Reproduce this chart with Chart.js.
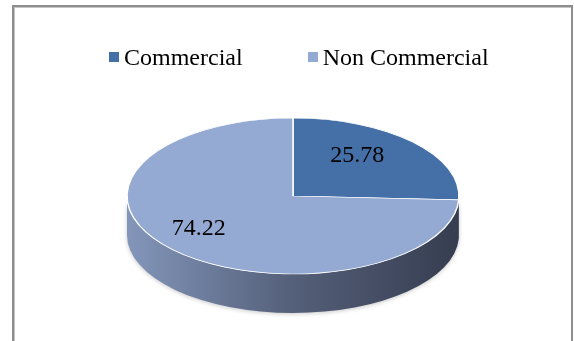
<!DOCTYPE html>
<html lang="en">
<head>
<meta charset="UTF-8">
<title>Commercial / Non Commercial</title>
<script src="https://cdn.jsdelivr.net/npm/chart.js@4.4.1/dist/chart.umd.min.js"></script>
<style>
    html, body { margin: 0; padding: 0; background: #fff; overflow: hidden; }
    .page { position: relative; width: 574px; height: 341px; overflow: hidden; }
    .frame {
        position: absolute; left: 12px; top: 5px; width: 557px; height: 400px;
        border: 2px solid #8e8e8e; box-shadow: inset 1px 1px 0 #c4c4c4;
    }
    .chart-box { position: absolute; left: 0; top: 0; width: 574px; height: 341px; }
    #legend {
        position: absolute; left: 109px; top: 45px; display: flex; align-items: center;
        font-family: "Liberation Serif", "Times New Roman", serif; font-size: 24px;
        line-height: 24px; color: #000; white-space: nowrap;
    }
    #legend .item { display: flex; align-items: center; }
    #legend .item + .item { margin-left: 65px; }
    #legend .box { width: 10px; height: 10px; margin-right: 5px; }
</style>
</head>
<body>
<div class="page">
    <div class="frame"></div>
    <div class="chart-box"><canvas id="pieChart"></canvas></div>
    <div id="legend"></div>
</div>

<script>
    // Share of records (%)
    const categories = ['Commercial', 'Non Commercial'];
    const shares = [25.78, 74.22];

    // Top face of the pie on screen and the height of its side wall
    const PIE = { cx: 293, cy: 196, rx: 166, ry: 78, depth: 39 };

    // blend a hex colour towards dark slate
    function shade(hex, t) {
        const n = parseInt(hex.slice(1), 16);
        const c = [(n >> 16) & 255, (n >> 8) & 255, n & 255];
        const d = [30, 34, 48];
        const m = c.map((v, k) => Math.round(v + (d[k] - v) * t));
        return 'rgb(' + m.join(',') + ')';
    }

    // Tilts the library's pie into a 3D disc: wall first, then squashed top face, then labels
    const pie3d = {
        id: 'pie3d',
        beforeDatasetsDraw(chart) {
            const ctx = chart.ctx;
            const meta = chart.getDatasetMeta(0);
            const colors = chart.data.datasets[0].backgroundColor;
            const { cx, cy, rx, ry, depth } = PIE;

            // only the front half of the wall (0..PI) can be seen
            ctx.save();
            ctx.shadowColor = 'rgba(0,0,0,0.22)';
            ctx.shadowBlur = 4;
            ctx.shadowOffsetY = 1;
            meta.data.forEach((arc, i) => {
                const a0 = Math.max(arc.startAngle, 0);
                const a1 = Math.min(arc.endAngle, Math.PI);
                if (a1 <= a0) return;
                const grad = ctx.createLinearGradient(cx - rx, 0, cx + rx, 0);
                grad.addColorStop(0, shade(colors[i], 0.15));
                grad.addColorStop(0.5, shade(colors[i], 0.55));
                grad.addColorStop(1, shade(colors[i], 0.8));
                ctx.fillStyle = grad;
                ctx.beginPath();
                ctx.ellipse(cx, cy, rx, ry, 0, a0, a1);
                ctx.ellipse(cx, cy + depth, rx, ry, 0, a1, a0, true);
                ctx.closePath();
                ctx.fill();
            });
            ctx.restore();

            // squash the circle into the top face
            const arc = meta.data[0];
            ctx.save();
            ctx.translate(cx, cy);
            ctx.scale(rx / arc.outerRadius, ry / arc.outerRadius);
            ctx.translate(-arc.x, -arc.y);
        },
        afterDatasetsDraw(chart) {
            const ctx = chart.ctx;
            ctx.restore();

            const meta = chart.getDatasetMeta(0);
            const { cx, cy, rx, ry } = PIE;
            ctx.save();
            ctx.font = '24px "Liberation Serif", "Times New Roman", serif';
            ctx.fillStyle = '#000';
            ctx.textAlign = 'center';
            ctx.textBaseline = 'middle';
            meta.data.forEach((arc, i) => {
                const mid = (arc.startAngle + arc.endAngle) / 2;
                const x = cx - 15 + 0.66 * rx * Math.cos(mid);
                const y = cy - 4 + 0.68 * ry * Math.sin(mid);
                ctx.fillText(shares[i].toFixed(2), x, y);
            });
            ctx.restore();
        }
    };

    // HTML legend above the disc
    const htmlLegend = {
        id: 'htmlLegend',
        afterUpdate(chart) {
            const box = document.getElementById('legend');
            box.innerHTML = '';
            const items = chart.options.plugins.legend.labels.generateLabels(chart);
            items.forEach(item => {
                const el = document.createElement('div');
                el.className = 'item';
                const swatch = document.createElement('span');
                swatch.className = 'box';
                swatch.style.background = item.fillStyle;
                const text = document.createElement('span');
                text.textContent = item.text;
                el.appendChild(swatch);
                el.appendChild(text);
                box.appendChild(el);
            });
        }
    };

    const ctx = document.getElementById('pieChart').getContext('2d');
    const pieChart = new Chart(ctx, {
        type: 'pie',
        data: {
            labels: categories,
            datasets: [{
                data: shares,
                backgroundColor: ['#4570A7', '#95AAD2'],
                borderColor: '#ffffff',
                borderWidth: 1.5,
                clip: false
            }]
        },
        options: {
            responsive: true,
            maintainAspectRatio: false,
            animation: false,
            events: [],
            layout: { padding: { top: 4, bottom: 4 } },
            plugins: {
                legend: { display: false },
                tooltip: { enabled: false }
            }
        },
        plugins: [pie3d, htmlLegend]
    });
</script>
</body>
</html>
